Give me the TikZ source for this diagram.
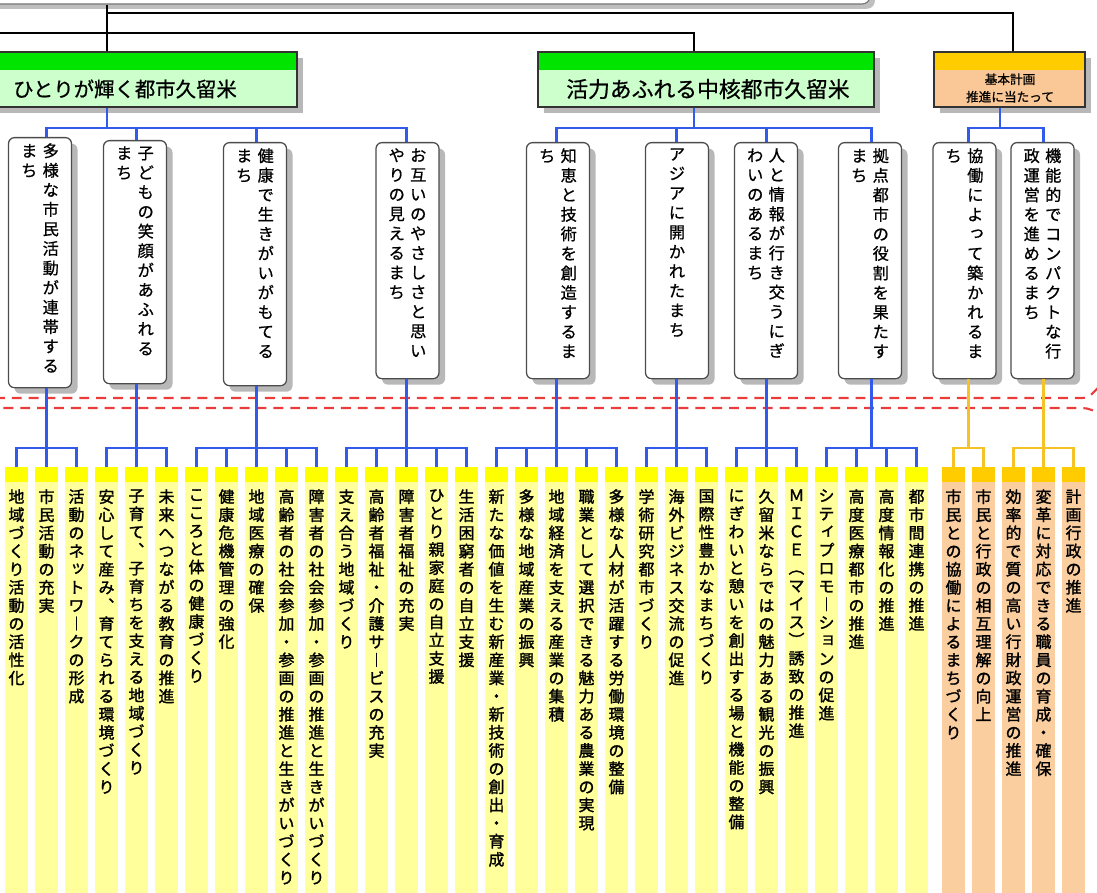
\documentclass[tikz,border=0pt]{standalone}
\usepackage{fontspec}
\newfontfamily\jp{Noto Sans CJK JP}[FakeBold=0.8]
\newfontfamily\jpbold{Noto Sans CJK JP}[FakeBold=1.6]
\usetikzlibrary{positioning, calc, shadows}

\definecolor{bandgreen}{RGB}{0,228,0}
\definecolor{boxgreen}{RGB}{204,255,204}
\definecolor{bandgold}{RGB}{255,204,0}
\definecolor{boxpeach}{RGB}{250,200,150}
\definecolor{leafyellow}{RGB}{255,255,0}
\definecolor{leafpale}{RGB}{255,255,155}
\definecolor{leafpeach}{RGB}{251,206,160}
\definecolor{linkblue}{RGB}{50,90,235}
\definecolor{linkgold}{RGB}{245,195,40}
\definecolor{cutred}{RGB}{235,60,60}

\makeatletter
\newlength\tatepitch
\newcommand\tatecol[1]{\edef\tate@list{#1}\expandafter\tate@col\expandafter{\tate@list}}
\newcommand\tate@col[1]{\vtop{\baselineskip=\tatepitch\lineskiplimit=-\maxdimen\lineskip=0pt
    \@tfor\tate@c:=#1\do{\hbox to 1em{\hss\tate@c\hss}}}}
\makeatother
\protected\def\sk#1{\raisebox{.15em}{\hspace*{.2em}#1}} % small kana sit top right when vertical
\newcommand\midtext[2]{\tatecol{#2}\hspace{3.8pt}\tatecol{#1}} % first column is the right one

\tikzset{
    trunk/.style={draw=black, line width=1.4pt}, % black lines at the top
    bline/.style={draw=linkblue, line width=1.6pt},
    gline/.style={draw=linkgold, line width=1.6pt},
    cutline/.style={draw=cutred, line width=1.5pt, dash pattern=on 7pt off 5pt},
    topbox/.style={rectangle, rounded corners=0.2cm, draw=black!55, line width=0.8pt, fill=white,
        minimum width=22.75cm, minimum height=1.6cm,
        drop shadow={shadow xshift=0.12cm, shadow yshift=-0.12cm, fill=black!25, opacity=1}},
    mainbox/.style 2 args={rectangle, draw=black!80, line width=1pt, fill=#2, minimum height=1.375cm,
        path picture={\fill[#1] (path picture bounding box.north west) rectangle ([yshift=-0.45cm]path picture bounding box.north east);},
        drop shadow={shadow xshift=0.15cm, shadow yshift=-0.15cm, fill=black!28, opacity=1}},
    maintext/.style={inner sep=0, font=\jp\fontsize{14.5}{17}\selectfont},
    midbox/.style={rectangle, rounded corners=0.15cm, draw=black!70, line width=0.9pt, fill=white,
        anchor=north, minimum width=1.575cm,
        drop shadow={shadow xshift=0.15cm, shadow yshift=-0.15cm, fill=black!28, opacity=1}},
    midtext/.style={anchor=north, inner sep=0, font=\jp\fontsize{11.5}{14}\selectfont\setlength\tatepitch{13.9pt}},
    leafbox/.style 2 args={rectangle, anchor=north, inner sep=0, minimum width=0.575cm, minimum height=11cm, fill=#2,
        path picture={\fill[#1] (path picture bounding box.north west) rectangle ([yshift=-0.375cm]path picture bounding box.north east);}},
    leaftext/.style={anchor=north, inner sep=0, font=\jpbold\fontsize{11.3}{13}\selectfont\setlength\tatepitch{12.9pt}},
}

\begin{document}
\begin{tikzpicture}[x=0.025cm, y=-0.025cm]
\clip (0,0) rectangle (1097,893);

% leaves
\foreach \txt [count=\n from 0] in {地域づくり活動の活性化, 市民活動の充実, 活動のネ{\sk ッ}トワ︱クの形成,
    安心して産み︑育てられる環境づくり, 子育て︑子育ちを支える地域づくり, 未来へつながる教育の推進,
    こころと体の健康づくり, 健康危機管理の強化, 地域医療の確保,
    高齢者の社会参加・参画の推進と生きがいづくり, 障害者の社会参加・参画の推進と生きがいづくり,
    支え合う地域づくり, 高齢者福祉・介護サ︱ビスの充実, 障害者福祉の充実, ひとり親家庭の自立支援, 生活困窮者の自立支援,
    新たな価値を生む新産業・新技術の創出・育成, 多様な地域産業の振興, 地域経済を支える産業の集積,
    職業として選択できる魅力ある農業の実現, 多様な人材が活躍する労働環境の整備,
    学術研究都市づくり, 海外ビジネス交流の促進, 国際性豊かなまちづくり,
    にぎわいと憩いを創出する場と機能の整備, 久留米ならではの魅力ある観光の振興, ＭＩＣＥ︵マイス︶誘致の推進,
    シテ{\sk ィ}プロモ︱シ{\sk ョ}ンの促進, 高度医療都市の推進, 高度情報化の推進, 都市間連携の推進,
    市民との協働によるまちづくり, 市民と行政の相互理解の向上,
    効率的で質の高い行財政運営の推進, 変革に対応できる職員の育成・確保, 計画行政の推進}{
  \ifnum\n<31 \def\lx{16.5+30*\n}\def\bandc{leafyellow}\def\bodyc{leafpale}%
  \else \def\lx{23.5+30*\n}\def\bandc{bandgold}\def\bodyc{leafpeach}\fi
  \node[leafbox={\bandc}{\bodyc}] (l\n) at ({\lx},467) {};
  \node[leaftext] (lt\n) at ([yshift=-0.55cm]l\n.north) {\tatecol{\txt}};
}

% top box and main boxes
\node[topbox] (top) at (415,-28) {};
\node[mainbox={bandgreen}{boxgreen}, minimum width=7.925cm] (g1) at (138.5,79.5) {};
\node[mainbox={bandgreen}{boxgreen}, minimum width=8.4cm] (g2) at (706,79.5) {};
\node[mainbox={bandgold}{boxpeach}, minimum width=3.775cm] (o1) at (1009.5,79.5) {};
\node[maintext] (g1-t) at (125,89) {ひとりが輝く都市久留米};
\node[maintext, font=\jp\fontsize{15.5}{17}\selectfont] (g2-t) at (708,89) {活力あふれる中核都市久留米};
\node[maintext, font=\jp\fontsize{9}{12.5}\selectfont, align=center] (o1-t) at (1010,88) {基本計画\\推進に当たって};

% middle boxes
\node[midbox, minimum height=6.25cm] (mA) at (40,137) {};
\node[midbox, minimum height=6.075cm] (mB) at (135,140) {};
\node[midbox, minimum height=6.075cm] (mC) at (255,142) {};
\node[midbox, minimum height=5.9cm] (mD) at (407.5,142) {};
\node[midbox, minimum height=5.9cm] (mE) at (558,142) {};
\node[midbox, minimum height=5.9cm] (mF) at (677,142) {};
\node[midbox, minimum height=5.9cm] (mG) at (766,142) {};
\node[midbox, minimum height=5.9cm] (mH) at (870,142) {};
\node[midbox, minimum height=5.9cm] (mI) at (964.5,142) {};
\node[midbox, minimum height=5.9cm] (mJ) at (1042.5,142) {};
\node[midtext] (mA-t) at ([yshift=-0.15cm]mA.north) {\midtext{多様な市民活動が連帯する}{まち}};
\node[midtext] (mB-t) at ([yshift=-0.15cm]mB.north) {\midtext{子どもの笑顔があふれる}{まち}};
\node[midtext] (mC-t) at ([yshift=-0.15cm]mC.north) {\midtext{健康で生きがいがもてる}{まち}};
\node[midtext] (mD-t) at ([yshift=-0.15cm]mD.north) {\midtext{お互いのやさしさと思い}{やりの見えるまち}};
\node[midtext] (mE-t) at ([yshift=-0.15cm]mE.north) {\midtext{知恵と技術を創造するま}{ち}};
\node[midtext] (mF-t) at ([yshift=-0.15cm]mF.north) {\tatecol{アジアに開かれたまち}};
\node[midtext] (mG-t) at ([yshift=-0.15cm]mG.north) {\midtext{人と情報が行き交うにぎ}{わいのあるまち}};
\node[midtext] (mH-t) at ([yshift=-0.15cm]mH.north) {\midtext{拠点都市の役割を果たす}{まち}};
\node[midtext] (mI-t) at ([yshift=-0.15cm]mI.north) {\midtext{協働によ{\sk っ}て築かれるま}{ち}};
\node[midtext] (mJ-t) at ([yshift=-0.15cm]mJ.north) {\midtext{機能的でコンパクトな行}{政運営を進めるまち}};

% dashed cut lines
\draw[cutline] (-5,398) -- (1082,398) to[out=0,in=-140] (1100,386);
\draw[cutline, dash phase=6pt] (-5,408) -- (1082,408) to[out=0,in=165] (1100,413);

% black trunk
\coordinate (x1) at (107,0);
\coordinate (x2) at (694,0);
\coordinate (x3) at (1013,0);
\coordinate (x4) at (1000,0);
\coordinate (y1) at (0,13);
\coordinate (lft) at (-5,33);
\draw[trunk] (x1 |- top.south) -- (x1 |- g1.north);
\draw[trunk] (x1 |- y1) -| (x3 |- o1.north);
\draw[trunk] (lft) -| (x2 |- g2.north);

% connector points of the middle boxes
\coordinate (cA) at (l1.north);
\coordinate (cB) at (l4.north);
\coordinate (cC) at (l8.north);
\coordinate (cD) at (l13.north);
\coordinate (cE) at (l18.north);
\coordinate (cF) at (l22.north);
\coordinate (cG) at (l25.north);
\coordinate (cH) at ($(l27.north)!.5!(l30.north)$);
\coordinate (cI) at ($(l31.north)!.5!(l32.north)$);
\coordinate (cJ) at (l34.north);
\coordinate (ubus) at (0,128);
\coordinate (lbus) at (0,448);

% upper blue buses
\draw[bline] (x1 |- g1.south) -- (x1 |- ubus);
\draw[bline] (cA |- mA.north) |- (cD |- ubus) -- (cD |- mD.north);
\draw[bline] (x2 |- g2.south) -- (x2 |- ubus);
\draw[bline] (cE |- mE.north) |- (cH |- ubus) -- (cH |- mH.north);
\draw[bline] (x4 |- o1.south) -- (x4 |- ubus);
\draw[bline] (cI |- mI.north) |- (cJ |- ubus) -- (cJ |- mJ.north);
\foreach \m in {B,C,F,G}
  \draw[bline] (c\m |- ubus) -- (c\m |- m\m.north);

% lower buses to the leaves
\foreach \m in {A,B,C,D,E,F,G,H}
  \draw[bline] (c\m |- m\m.south) -- (c\m |- lbus);
\foreach \m in {I,J}
  \draw[gline] (c\m |- m\m.south) -- (c\m |- lbus);
\foreach \a/\b in {0/2, 3/5, 6/10, 11/15, 16/20, 21/23, 24/26, 27/30}
  \draw[bline] (l\a.north) |- (l\b.north |- lbus) -- (l\b.north);
\foreach \k in {1,4,7,8,9,12,13,14,17,18,19,22,25,28,29}
  \draw[bline] (l\k.north) -- (l\k.north |- lbus);
\foreach \a/\b in {31/32, 33/35}
  \draw[gline] (l\a.north) |- (l\b.north |- lbus) -- (l\b.north);
\draw[gline] (l34.north) -- (l34.north |- lbus);
\end{tikzpicture}
\end{document}
